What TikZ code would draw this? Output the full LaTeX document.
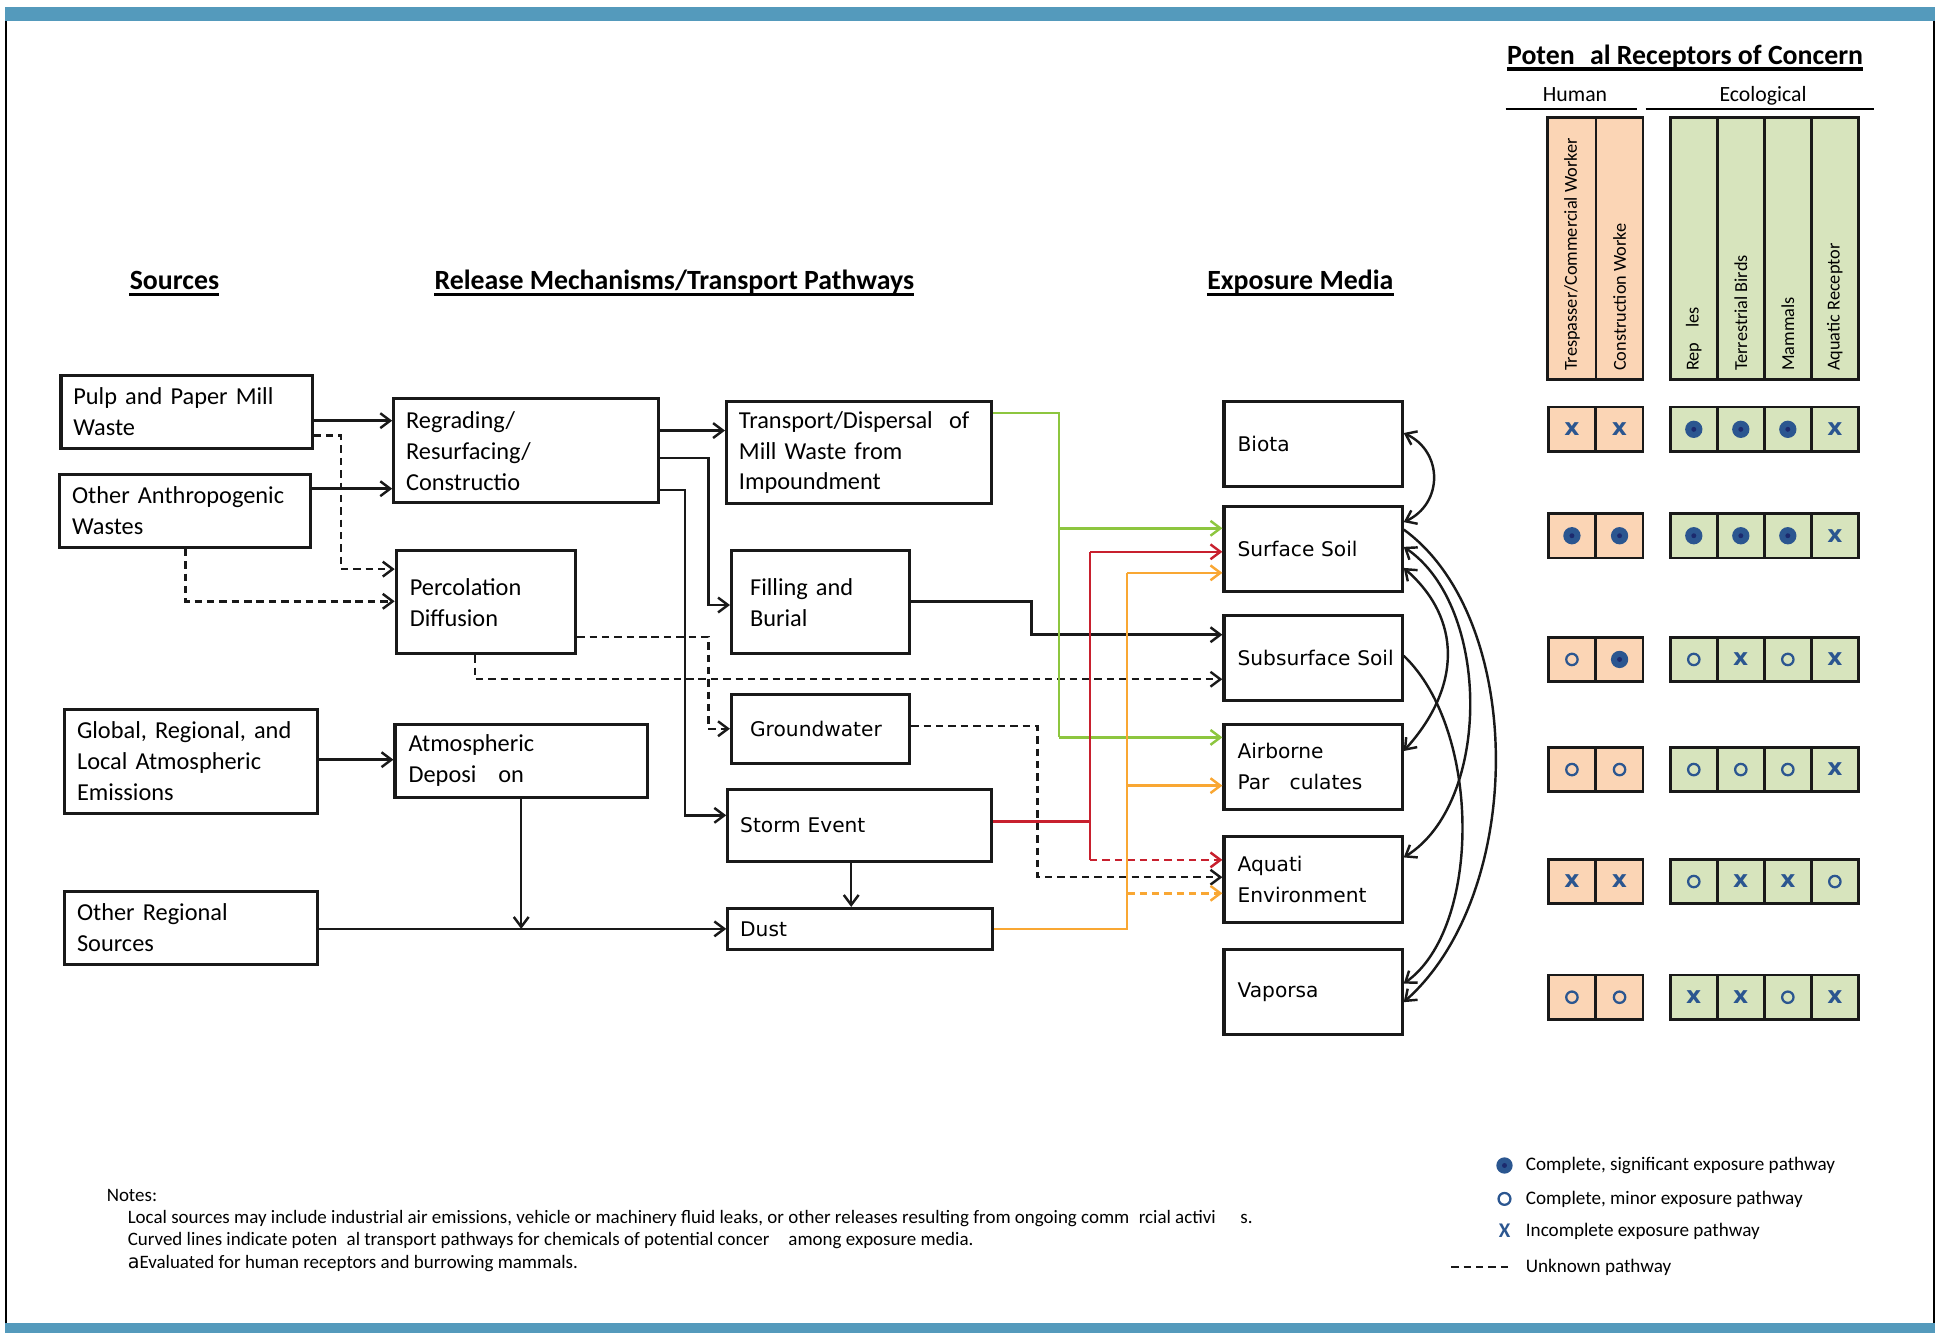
\documentclass[tikz,border=0pt]{standalone}
\usepackage{fontspec}
\setmainfont{Carlito}
\newfontfamily\dejavu{DejaVu Sans}
\usetikzlibrary{arrows.meta}

\definecolor{barblue}{RGB}{84,154,188}
\definecolor{peach}{RGB}{251,213,181}
\definecolor{leaf}{RGB}{215,228,189}
\definecolor{symblue}{RGB}{43,86,144}
\definecolor{symdark}{RGB}{28,42,110}
\definecolor{pathgreen}{RGB}{141,198,63}
\definecolor{pathred}{RGB}{200,32,46}
\definecolor{pathorange}{RGB}{249,167,51}

\begin{document}
\begin{tikzpicture}[
    x=0.25mm, y=-0.25mm,
    >={Straight Barb[length=2mm,width=3mm]},
    box/.style={draw=black!90,line width=1.8pt,anchor=north west,inner sep=0pt,align=left,
      font=\fontsize{14}{17.8}\selectfont},
    sz/.style n args={3}{minimum width=#1,minimum height=#2,text width=#3},
    wide/.style={font=\dejavu\fontsize{11.6}{17.8}\selectfont},
    media/.style={box,wide,minimum width=36mm,minimum height=17.25mm,text width=30.5mm},
    hdr/.style={anchor=base,inner sep=0pt,text depth=0.25em,font=\bfseries\fontsize{16}{19}\selectfont},
    grp/.style={anchor=base,inner sep=0pt,font=\fontsize{12.5}{14}\selectfont},
    colhd/.style={rotate=90,anchor=west,inner sep=0pt,font=\fontsize{10.5}{12}\selectfont},
    uline/.style={line width=1.9pt},
    rule/.style={line width=1.2pt},
    link/.style={line width=1.4pt,black!90},
    dsh/.style={dash pattern=on 1.5mm off 1mm},
    unk/.style={link,dsh},
    grn/.style={line width=1.4pt,pathgreen},
    rd/.style={line width=1.4pt,pathred},
    org/.style={line width=1.4pt,pathorange},
    cellframe/.style={draw=black!90,line width=1.6pt},
    cell/.style={cellframe,minimum width=9.5mm,minimum height=9mm,inner sep=0pt},
    hc/.style={cell,fill=peach},
    ec/.style={cell,fill=leaf},
    sigp/.style={path picture={
        \fill[symblue] (path picture bounding box.center) circle (1.75mm);
        \fill[symdark] (path picture bounding box.center) circle (0.5mm);}},
    minp/.style={path picture={
        \draw[symblue,line width=1.3pt] (path picture bounding box.center) circle (1.15mm);}},
    incp/.style={text=symblue,font=\dejavu\bfseries\fontsize{13.5}{14}\selectfont},
    key/.style={anchor=west,inner sep=0pt,font=\fontsize{11}{13}\selectfont},
    note/.style={anchor=base west,inner sep=0pt,font=\fontsize{10.9}{12.8}\selectfont}
    ]
    \useasboundingbox (0,0) rectangle (1568,1077);

    % frame
    \fill[barblue] (4,6) rectangle (1564,17);
    \fill[barblue] (4,1069) rectangle (1564,1077);
    \draw[line width=1.4pt] (5,17) -- (5,1069);
    \draw[line width=1.4pt] (1563,17) -- (1563,1069);

    % headings
    \node[hdr] (srch) at (141,234) {Sources};
    \node[hdr] (relh) at (545,234) {Release Mechanisms/Transport Pathways};
    \node[hdr] (exph) at (1051,234) {Exposure Media};
    \node[hdr] (roch) at (1362,52) {Poten\hspace{0.55em}al Receptors of Concern};
    \draw[uline] (srch.south west) -- (srch.south east);
    \draw[uline] (relh.south west) -- (relh.south east);
    \draw[uline] (exph.south west) -- (exph.south east);
    \draw[uline] (roch.south west) -- (roch.south east);

    % sources
    \node[box,sz={50.75mm}{14.75mm}{45.75mm}] (pulp) at (48,302) {Pulp and Paper Mill\\Waste};
    \node[box,sz={50.75mm}{14.75mm}{45.75mm}] (anthro) at (47,382) {Other Anthropogenic\\Wastes};
    \node[box,sz={51mm}{21mm}{46mm}] (glob) at (51,572) {Global, Regional, and\\Local Atmospheric\\Emissions};
    \node[box,sz={51mm}{14.75mm}{46mm}] (oreg) at (51,719) {Other Regional\\Sources};

    % release mechanisms
    \node[box,sz={53.5mm}{21mm}{48.5mm}] (regr) at (317,321) {Regrading/\\Resurfacing/\\Constructio};
    \node[box,sz={36.25mm}{20.75mm}{30.75mm}] (perc) at (319,444) {Percolation\\Diffusion};
    \node[box,sz={51mm}{14.75mm}{45.5mm}] (atmo) at (318,584) {Atmospheric\\Deposi\hspace{0.9em}on};
    \node[box,sz={53.5mm}{20.75mm}{48.5mm}] (trans) at (586,323) {Transport/Dispersal\ \ of\\Mill Waste from\\Impoundment};
    \node[box,sz={36mm}{20.75mm}{28.5mm}] (fill) at (590,444) {Filling and\\Burial};
    \node[box,wide,sz={36mm}{14mm}{28.5mm}] (gw) at (590,560) {Groundwater};
    \node[box,wide,sz={53.25mm}{14.5mm}{48.25mm}] (storm) at (587,637) {Storm Event};
    \node[box,wide,sz={53.5mm}{8.25mm}{48.5mm}] (dust) at (587,733) {Dust};

    % exposure media
    \node[media] (biota) at (988,323) {Biota};
    \node[media] (surf) at (988,408) {Surface~Soil};
    \node[media] (subs) at (988,496) {Subsurface~Soil};
    \node[media] (air) at (988,584) {Airborne\\Par\hspace{1em}culates};
    \node[media] (aqua) at (988,675) {Aquati\\Environment};
    \node[media] (vap) at (988,766) {Vaporsa};

    % black pathways
    \draw[link,->] (pulp.east |- 0,340) -- (regr.west |- 0,340);
    \draw[link,->] (anthro.east |- 0,395) -- (regr.west |- 0,395);
    \draw[unk,->] (pulp.east |- 0,352) -- ++(22,0) |- (perc.west |- 0,460);
    \draw[unk,->] (anthro.south) |- (perc.west |- 0,486);
    \draw[link,->] (regr.east |- 0,348) -- (trans.west |- 0,348);
    \draw[link,->] (regr.east |- 0,370) -- ++(39,0) |- (fill.west |- 0,489);
    \draw[link,->] (regr.east |- 0,396) -- ++(20,0) |- (storm.west |- 0,659);
    \draw[unk,->] (perc.east |- 0,515) -- ++(106,0) |- (gw.west |- 0,589);
    \draw[unk,->] (perc.south -| 384,0) |- (subs.west |- 0,549);
    \draw[link,->] (glob.east |- 0,614) -- (atmo.west |- 0,614);
    \draw[link,->] (atmo.south) -- (atmo.south |- dust.west);
    \draw[link,->] (oreg.east |- dust.west) -- (dust.west);
    \draw[link,->] (storm.south -| 688,0) -- (dust.north -| 688,0);
    \draw[link,->] (fill.east |- 0,486) -- ++(97,0) |- (subs.west |- 0,513);
    \draw[unk,->] (gw.east |- 0,587) -- ++(102,0) |- (aqua.west |- 0,709);

    % green pathway
    \coordinate (gsplit) at (856,427);
    \coordinate (gfoot) at (856,596);
    \draw[grn] (trans.east |- 0,334) -| (gfoot);
    \draw[grn,->] (gsplit) -- (surf.west |- gsplit);
    \draw[grn,->] (gfoot) -- (air.west |- gfoot);

    % red pathway
    \coordinate (rtop) at (881,446);
    \coordinate (rfoot) at (881,695);
    \draw[rd] (storm.east |- 0,664) -| (rfoot);
    \draw[rd] (rtop) -- (rfoot);
    \draw[rd,->] (rtop) -- (surf.west |- rtop);
    \draw[rd,dsh,->] (rfoot) -- (aqua.west |- rfoot);

    % orange pathway
    \coordinate (otop) at (911,463);
    \coordinate (omid) at (911,635);
    \coordinate (olow) at (911,722);
    \draw[org] (dust.east) -| (otop);
    \draw[org,->] (otop) -- (surf.west |- otop);
    \draw[org,->] (omid) -- (air.west |- omid);
    \draw[org,dsh,->] (olow) -- (aqua.west |- olow);

    % curved lines among media
    \draw[link,<->] (biota.east |- 0,350) .. controls +(32,15) and +(32,-15) .. (surf.east |- 0,422);
    \draw[link,<->] (surf.east |- 0,459) .. controls +(47,41) and +(47,-52) .. (air.east |- 0,607);
    \draw[link,<->] (surf.east |- 0,442) .. controls +(71,48) and +(71,-44) .. (aqua.east |- 0,693);
    \draw[link,->] (surf.east |- 0,428) .. controls +(99,72) and +(99,-88) .. (vap.east |- 0,810);
    \draw[link,->] (subs.east |- 0,530) .. controls +(63,60) and +(63,-45) .. (vap.east |- 0,795);

    % receptor headers
    \node[grp] (human) at (1273,82) {Human};
    \node[grp] (eco) at (1425,82) {Ecological};
    \draw[rule] (1217,88) -- (1323,88);
    \draw[rule] (1330,88) -- (1515,88);
    \filldraw[cellframe,fill=peach] (1251,95) rectangle (1328,307);
    \draw[cellframe] (1290,95) -- (1290,307);
    \filldraw[cellframe,fill=leaf] (1350,95) rectangle (1502,307);
    \draw[cellframe] (1388,95) -- (1388,307) (1426,95) -- (1426,307) (1464,95) -- (1464,307);
    \node[colhd] (ctres) at (1270.5,300) {Trespasser/Commercial Worker};
    \node[colhd] (ccons) at (1309,300) {Construction Worke};
    \node[colhd] (crept) at (1369,300) {Rep\hspace{0.8em}les};
    \node[colhd] (cbird) at (1407,300) {Terrestrial Birds};
    \node[colhd] (cmamm) at (1445,300) {Mammals};
    \node[colhd] (caqua) at (1483,300) {Aquatic Receptor};

    % receptor rows
    \node[hc,incp] (h11) at (1270.5,347) {x}; \node[hc,incp] (h12) at (1309,347) {x};
    \node[ec,sigp] (e11) at (1369,347) {}; \node[ec,sigp] (e12) at (1407,347) {};
    \node[ec,sigp] (e13) at (1445,347) {}; \node[ec,incp] (e14) at (1483,347) {x};

    \node[hc,sigp] (h21) at (1270.5,433) {}; \node[hc,sigp] (h22) at (1309,433) {};
    \node[ec,sigp] (e21) at (1369,433) {}; \node[ec,sigp] (e22) at (1407,433) {};
    \node[ec,sigp] (e23) at (1445,433) {}; \node[ec,incp] (e24) at (1483,433) {x};

    \node[hc,minp] (h31) at (1270.5,533) {}; \node[hc,sigp] (h32) at (1309,533) {};
    \node[ec,minp] (e31) at (1369,533) {}; \node[ec,incp] (e32) at (1407,533) {x};
    \node[ec,minp] (e33) at (1445,533) {}; \node[ec,incp] (e34) at (1483,533) {x};

    \node[hc,minp] (h41) at (1270.5,622) {}; \node[hc,minp] (h42) at (1309,622) {};
    \node[ec,minp] (e41) at (1369,622) {}; \node[ec,minp] (e42) at (1407,622) {};
    \node[ec,minp] (e43) at (1445,622) {}; \node[ec,incp] (e44) at (1483,622) {x};

    \node[hc,incp] (h51) at (1270.5,712.5) {x}; \node[hc,incp] (h52) at (1309,712.5) {x};
    \node[ec,minp] (e51) at (1369,712.5) {}; \node[ec,incp] (e52) at (1407,712.5) {x};
    \node[ec,incp] (e53) at (1445,712.5) {x}; \node[ec,minp] (e54) at (1483,712.5) {};

    \node[hc,minp] (h61) at (1270.5,806) {}; \node[hc,minp] (h62) at (1309,806) {};
    \node[ec,incp] (e61) at (1369,806) {x}; \node[ec,incp] (e62) at (1407,806) {x};
    \node[ec,minp] (e63) at (1445,806) {}; \node[ec,incp] (e64) at (1483,806) {x};

    % legend
    \node[circle,fill=symblue,minimum size=3.3mm,inner sep=0pt,path picture={
        \fill[symdark] (path picture bounding box.center) circle (0.5mm);}] (ksig) at (1216,942) {};
    \node[circle,draw=symblue,line width=1.3pt,minimum size=2.4mm,inner sep=0pt] (kmin) at (1216,969) {};
    \node[inner sep=0pt,text=symblue,font=\bfseries\fontsize{12}{12}\selectfont] (kinc) at (1216,995) {X};
    \draw[unk] (1173,1024) -- (1222,1024);
    \node[key] (tsig) at (1233,942) {Complete, significant exposure pathway};
    \node[key] (tmin) at (1233,969) {Complete, minor exposure pathway};
    \node[key] (tinc) at (1233,995) {Incomplete exposure pathway};
    \node[key] (tunk) at (1233,1024) {Unknown pathway};

    % notes
    \node[note] (notes) at (86,971) {Notes:};
    \node[note] (n1) at (103,989) {Local sources may include industrial air emissions, vehicle or machinery fluid leaks, or other releases resulting from ongoing comm\hspace{0.5em}rcial activi\hspace{1.3em}s.};
    \node[note] (n2) at (103,1007) {Curved lines indicate poten\hspace{0.5em}al transport pathways for chemicals of potential concer\hspace{1em}among exposure media.};
    \node[note] (n3) at (103,1025) {{\dejavu\fontsize{11}{12}\selectfont a}Evaluated for human receptors and burrowing mammals.};
  \end{tikzpicture}
\end{document}
